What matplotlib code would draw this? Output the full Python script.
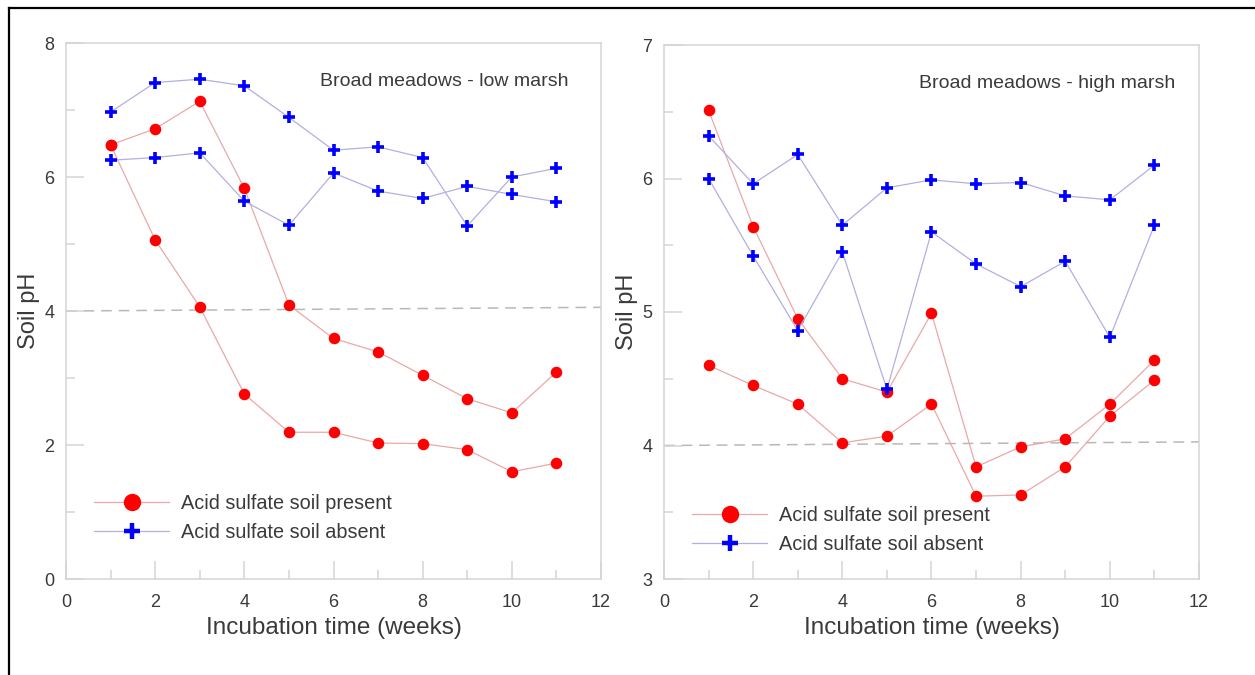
import numpy as np
import matplotlib
matplotlib.use("Agg")
import matplotlib.pyplot as plt
from matplotlib.lines import Line2D

plt.rcParams['font.family'] = ['Liberation Sans', 'DejaVu Sans']

##---- Data ----##

weeks = [1, 2, 3, 4, 5, 6, 7, 8, 9, 10, 11]

# Broad meadows - low marsh
low_present_a = [6.48, 6.72, 7.13, 5.83, 4.09, 3.59, 3.39, 3.04, 2.69, 2.48, 3.09]
low_present_b = [6.48, 5.06, 4.06, 2.76, 2.19, 2.19, 2.03, 2.02, 1.93, 1.60, 1.73]
low_absent_a = [6.97, 7.41, 7.46, 7.36, 6.89, 6.40, 6.45, 6.29, 5.27, 6.00, 6.13]
low_absent_b = [6.25, 6.29, 6.36, 5.64, 5.28, 6.06, 5.79, 5.68, 5.86, 5.74, 5.63]

# Broad meadows - high marsh
high_present_a = [6.51, 5.64, 4.95, 4.50, 4.40, 4.99, 3.84, 3.99, 4.05, 4.31, 4.64]
high_present_b = [4.60, 4.45, 4.31, 4.02, 4.07, 4.31, 3.62, 3.63, 3.84, 4.22, 4.49]
high_absent_a = [6.32, 5.96, 6.18, 5.65, 5.93, 5.99, 5.96, 5.97, 5.87, 5.84, 6.10]
high_absent_b = [6.00, 5.42, 4.86, 5.45, 4.42, 5.60, 5.36, 5.19, 5.38, 4.81, 5.65]

# seuil pH 4 (ligne pointillée, légèrement inclinée sur l'original)
low_threshold = [4.0, 4.055]
high_threshold = [4.0, 4.027]
threshold_x = [0, 12]

labels = ["Acid sulfate soil present", "Acid sulfate soil absent"]
titles = ["Broad meadows - low marsh", "Broad meadows - high marsh"]

##---- Styles ----##

red_line = '#eaa8a8'
blue_line = '#b0b0e2'
frame_col = '#d4d4d4'
text_col = '#3a3a3a'

W, H = 1255, 675
fig = plt.figure(figsize=(W / 100, H / 100), dpi=100)

ax1 = fig.add_axes([66 / W, 1 - 579 / H, 535 / W, 536 / H])
ax2 = fig.add_axes([664 / W, 1 - 579 / H, 535 / W, 534 / H])


def draw_panel(ax, present, absent, thr, ylim, ymajor, yminor, title, tx, ty, leg_y):
    ax.plot(threshold_x, thr, color='#b8b8b8', lw=1.1, linestyle=(0, (7, 4.5)), zorder=1)
    for s in present:
        ax.plot(weeks, s, color=red_line, lw=0.9, marker='o', markersize=7.3,
                markerfacecolor='#ff0000', markeredgecolor='#ff0000', zorder=2)
    for s in absent:
        ax.plot(weeks, s, color=blue_line, lw=0.9, marker='+', markersize=8,
                markeredgewidth=2.6, markeredgecolor='#0000ff', zorder=3)

    ax.set_xlim(0, 12)
    ax.set_ylim(*ylim)
    ax.set_xticks(np.arange(0, 13, 2))
    ax.set_xticks(np.arange(1, 12, 2), minor=True)
    ax.set_yticks(ymajor)
    ax.set_yticks(yminor, minor=True)

    for sp in ax.spines.values():
        sp.set_color(frame_col)
        sp.set_linewidth(1.1)

    ax.tick_params(which='major', direction='in', length=13, width=1.1, color=frame_col,
                   labelsize=13, labelcolor=text_col)
    ax.tick_params(which='minor', direction='in', length=6.5, width=1.1, color=frame_col)
    ax.tick_params(axis='x', which='major', pad=11)
    ax.tick_params(axis='y', which='major', pad=8.5)

    ax.set_xlabel("Incubation time (weeks)", fontsize=17.5, color=text_col, labelpad=4)
    ax.set_ylabel("Soil pH", fontsize=17, color=text_col, labelpad=3)

    ax.text(tx, ty, title, transform=ax.transAxes, ha='right', va='center',
            fontsize=14, color=text_col)

    handles = [
        Line2D([], [], color=red_line, lw=0.9, marker='o', markersize=11.5,
               markerfacecolor='#ff0000', markeredgecolor='#ff0000'),
        Line2D([], [], color=blue_line, lw=0.9, marker='+', markersize=12,
               markeredgewidth=3.2, markeredgecolor='#0000ff'),
    ]
    leg = ax.legend(handles, labels, loc='upper left', bbox_to_anchor=(0.052, leg_y),
                    frameon=False, fontsize=14.3, handlelength=3.8, handletextpad=0.6,
                    labelspacing=0.47, borderpad=0, borderaxespad=0)
    for t in leg.get_texts():
        t.set_color(text_col)


draw_panel(ax1, [low_present_a, low_present_b], [low_absent_a, low_absent_b],
           low_threshold, (0, 8), np.arange(0, 9, 2), np.arange(1, 8, 2),
           titles[0], 0.94, 0.929, 0.158)
draw_panel(ax2, [high_present_a, high_present_b], [high_absent_a, high_absent_b],
           high_threshold, (3, 7), np.arange(3, 8, 1), np.arange(3.5, 7, 1),
           titles[1], 0.955, 0.927, 0.136)

# cadre noir autour de la figure (gauche + haut)
fig.add_artist(Line2D([9 / W, 9 / W], [0, 1 - 8 / H], transform=fig.transFigure,
                      color='black', lw=1.6))
fig.add_artist(Line2D([9 / W, 1], [1 - 8 / H, 1 - 8 / H], transform=fig.transFigure,
                      color='black', lw=1.6))

fig.savefig("out.png", dpi=100)
